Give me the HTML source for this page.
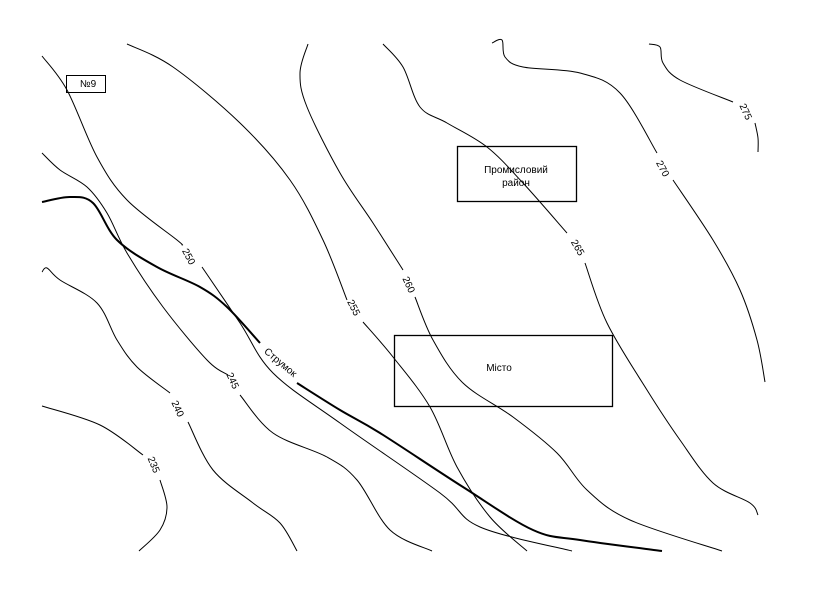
<!DOCTYPE html>
<html><head><meta charset="utf-8"><style>
html,body{margin:0;padding:0;background:#fff;}
svg{display:block;font-family:"Liberation Sans",sans-serif;}
</style></head><body>
<svg id="s" width="819" height="610" viewBox="0 0 819 610" xmlns="http://www.w3.org/2000/svg">
<g id="lines" fill="none" stroke="#000" stroke-width="1"></g>
<g font-size="10" fill="#000" text-anchor="middle" dominant-baseline="central">
<text transform="translate(188,257) rotate(62)">250</text>
<text transform="translate(232,381) rotate(65)">245</text>
<text transform="translate(177,409) rotate(65)">240</text>
<text transform="translate(153,465) rotate(68)">235</text>
<text transform="translate(353,308) rotate(63)">255</text>
<text transform="translate(408,285) rotate(65)">260</text>
<text transform="translate(577,248) rotate(60)">265</text>
<text transform="translate(662,169) rotate(62)">270</text>
<text transform="translate(745,112) rotate(65)">275</text>
<text transform="translate(280,363) rotate(40)">Струмок</text>
</g>
<g fill="none" stroke="#000" stroke-width="1.3">
<rect x="66.5" y="75.5" width="39" height="17" stroke-width="1"/>
<rect x="457.5" y="146.5" width="119" height="55"/>
<rect x="394.5" y="335.5" width="218" height="71"/>
</g>
<g font-size="10" fill="#000" text-anchor="middle">
<text x="88" y="87">№9</text>
<text x="516" y="173">Промисловий</text>
<text x="516" y="186">район</text>
<text x="499" y="371">Місто</text>
</g>
</svg>
<script>
var L=[
[[42,406],[100,425],[143,455]],
[[160,480],[167,507],[160,530],[139,551]],
[[42,272],[47,268],[60,280],[97,303],[117,340],[137,367],[170,393]],
[[188,422],[213,470],[253,503],[280,523],[297,551]],
[[42,153],[60,170],[87,187],[107,213],[127,253],[163,307],[207,360],[228,375]],
[[240,395],[273,433],[327,457],[357,480],[390,530],[432,551]],
[[42,56],[67,90],[97,157],[127,200],[177,240],[182,245]],
[[202,267],[240,323],[273,373],[340,423],[440,493],[480,527],[572,551]],
[[127,44],[173,67],[240,123],[290,180],[323,240],[347,300]],
[[363,322],[393,357],[430,407],[457,467],[490,517],[527,551]],
[[308,44],[300,73],[307,107],[340,173],[373,223],[403,270]],
[[415,297],[433,340],[463,383],[513,417],[557,453],[587,490],[630,520],[722,551]],
[[383,44],[403,67],[420,107],[447,123],[487,147],[523,183],[567,233]],
[[585,263],[607,323],[647,390],[680,440],[713,483],[750,503],[758,515]],
[[492,43],[502,40],[505,57],[523,67],[580,73],[620,93],[657,153]],
[[673,180],[713,240],[740,290],[757,340],[765,382]],
[[649,44],[660,47],[663,63],[680,80],[733,102]],
[[755,123],[758,138],[758,152]]
];
var S=[
[[42,202],[70,197],[93,203],[117,240],[157,267],[200,287],[227,307],[260,343]],
[[297,383],[340,410],[380,433],[463,487],[533,530],[580,540],[662,551]]
];
function cr(p){var d="M"+p[0][0]+","+p[0][1];for(var i=0;i<p.length-1;i++){var a=p[i-1]||p[i],b=p[i],c=p[i+1],e=p[i+2]||c;
d+=" C"+(b[0]+(c[0]-a[0])/6)+","+(b[1]+(c[1]-a[1])/6)+" "+(c[0]-(e[0]-b[0])/6)+","+(c[1]-(e[1]-b[1])/6)+" "+c[0]+","+c[1];}return d;}
var g=document.getElementById("lines"),ns="http://www.w3.org/2000/svg";
L.forEach(function(p){var e=document.createElementNS(ns,"path");e.setAttribute("d",cr(p));g.appendChild(e);});
S.forEach(function(p){var e=document.createElementNS(ns,"path");e.setAttribute("d",cr(p));e.setAttribute("stroke-width","2");g.appendChild(e);});
</script>
</body></html>
